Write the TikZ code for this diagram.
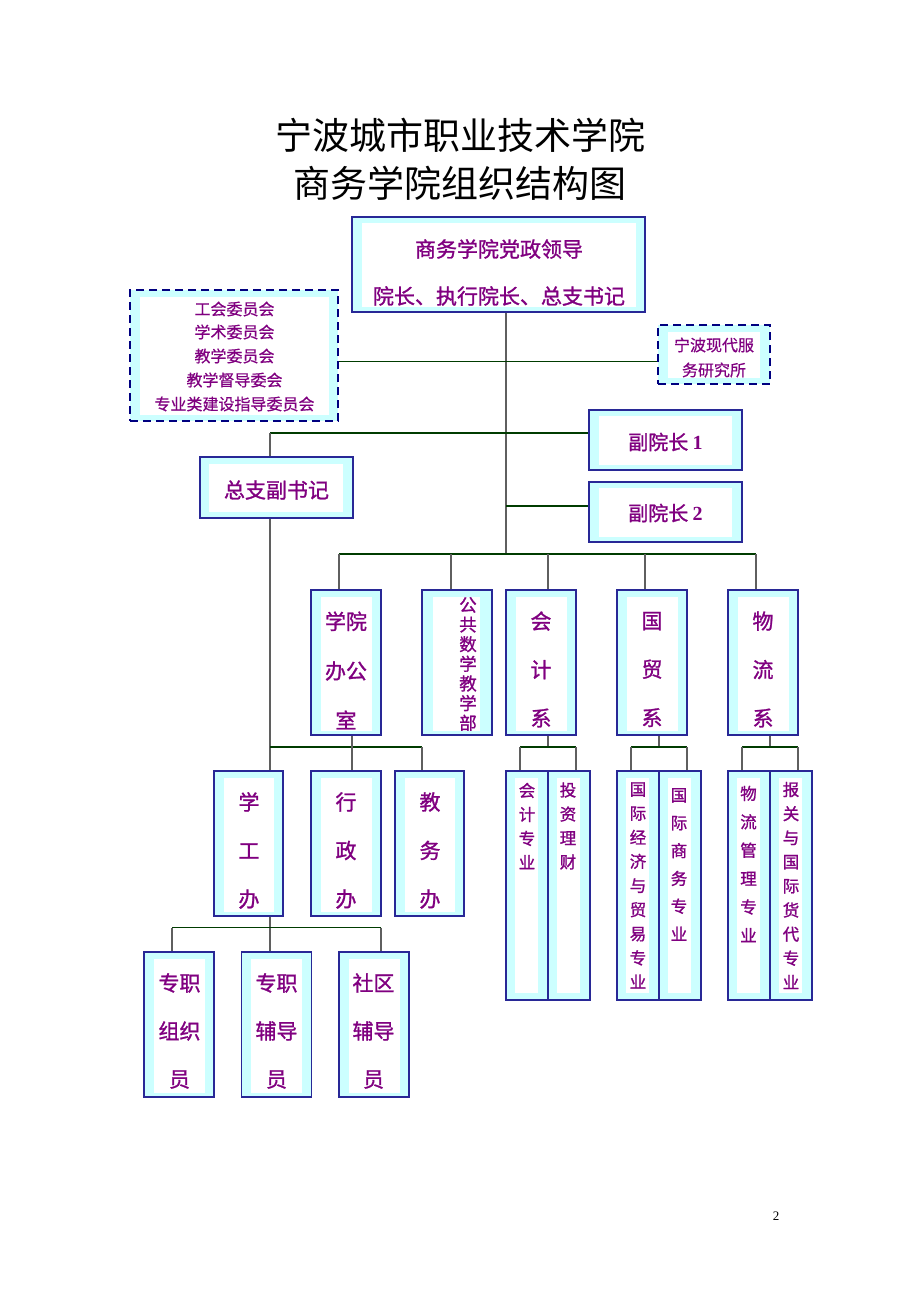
\documentclass[tikz,border=0pt]{standalone}
\usepackage{fontspec}
\setmainfont{Noto Sans CJK SC}
\newfontfamily\cjkb[FakeBold=1.2]{Noto Sans CJK SC}
\newfontfamily\cjkm[FakeBold=0.6]{Noto Sans CJK SC}
\newfontfamily\numfont{Liberation Serif}
\usetikzlibrary{calc}
\definecolor{bnavy}{RGB}{40,40,150}
\definecolor{dnavy}{RGB}{0,0,128}
\definecolor{bcyan}{RGB}{204,255,255}
\definecolor{tpurple}{RGB}{128,0,128}
\definecolor{hgreen}{RGB}{0,60,0}
\definecolor{vgray}{RGB}{95,95,95}
\tikzset{
  insl/.store in=\insl, insr/.store in=\insr, inst/.store in=\inst, insb/.store in=\insb,
  insl=9.5pt, insr=9.5pt, inst=7pt, insb=6pt,
  sz/.style 2 args={minimum width=#1pt, minimum height=#2pt},
  orgbox/.style={draw=bnavy, line width=1.3pt, fill=bcyan, inner sep=0pt,
    path picture={\fill[white] ([xshift=\insl,yshift=-\inst]path picture bounding box.north west)
      rectangle ([xshift=-\insr,yshift=\insb]path picture bounding box.south east);}},
  dbox/.style={draw=dnavy, line width=2.6pt, dash pattern=on 8pt off 5pt},
  txt/.style={text=tpurple, inner sep=0pt, font=\cjkb\fontsize{21}{21}\selectfont},
  st/.style={text=tpurple, inner sep=0pt, font=\cjkm\fontsize{16}{16}\selectfont},
  vt/.style 2 args={text=tpurple, inner sep=0pt, align=center, font=\cjkb\fontsize{#1}{#2}\selectfont},
  hl/.style={draw=hgreen, line width=1.4pt},
  vl/.style={draw=vgray, line width=1.4pt},
}
\begin{document}
\begin{tikzpicture}[x=1pt,y=-1pt]
\useasboundingbox[fill=white] (0,0) rectangle (920,1302);
% title
\node[inner sep=0pt, font=\fontsize{37}{37}\selectfont] (t1) at (460,135) {宁波城市职业技术学院};
\node[inner sep=0pt, font=\fontsize{37}{37}\selectfont] (t2) at (460,183) {商务学院组织结构图};
% top box
\node[orgbox, sz={293}{95}, insl=10pt, insr=9pt, inst=6pt, insb=5pt] (top) at (498.5,264.5) {};
\node[txt] (top1) at (499,249) {商务学院党政领导};
\node[txt] (top2) at (499,296) {院长、执行院长、总支书记};
% left dashed box
\node[orgbox, dbox, sz={208}{131}, insl=10pt, insr=9pt, inst=7pt, insb=6pt] (lbox) at (234,355.5) {};
\node[st] (l1) at (234.5,309) {工会委员会};
\node[st] (l2) at (234.5,332) {学术委员会};
\node[st] (l3) at (234.5,356) {教学委员会};
\node[st] (l4) at (234.5,380) {教学督导委会};
\node[st] (l5) at (234.5,404) {专业类建设指导委员会};
% right dashed box
\node[orgbox, dbox, sz={112}{59}, insl=10pt, insr=10pt, inst=7pt, insb=6pt] (rbox) at (714,354.5) {};
\node[st] (r1) at (714,345) {宁波现代服};
\node[st] (r2) at (714,370) {务研究所};
% vice presidents
\node[orgbox, sz={153}{60}, insl=10pt, insr=10pt, inst=6pt, insb=5pt] (vp1) at (665.5,440) {};
\node[txt, font=\cjkb\fontsize{20}{20}\selectfont] (vp1t) at (665.5,442) {副院长 {\numfont\bfseries 1}};
\node[orgbox, sz={153}{60}, insl=10pt, insr=10pt, inst=6pt, insb=5pt] (vp2) at (665.5,512) {};
\node[txt, font=\cjkb\fontsize{20}{20}\selectfont] (vp2t) at (665.5,513) {副院长 {\numfont\bfseries 2}};
% deputy secretary
\node[orgbox, sz={153}{61}, insl=9pt, insr=10pt, inst=7pt, insb=6pt] (zfs) at (276.5,487.5) {};
\node[txt] (zfst) at (276.5,490) {总支副书记};
% second row
\node[orgbox, sz={70}{145}, inst=7pt, insb=4pt] (xyb) at (346,662.5) {};
\node[vt={21}{49.5}] (xybt) at (346,670.5) {学院\\办公\\室};
\node[orgbox, sz={70}{145}, insl=11pt, insr=12pt, inst=7pt, insb=4pt] (ggs) at (457,662.5) {};
\node[vt={17.5}{19.67}] (ggst) at (468,664) {公\\共\\数\\学\\教\\学\\部};
\node[orgbox, sz={70}{145}, inst=7pt, insb=4pt] (kjx) at (541,662.5) {};
\node[vt={21}{48.5}] (kjxt) at (541,669.5) {会\\计\\系};
\node[orgbox, sz={70}{145}, inst=7pt, insb=4pt] (gmx) at (652,662.5) {};
\node[vt={21}{48.5}] (gmxt) at (652,669.5) {国\\贸\\系};
\node[orgbox, sz={70}{145}, inst=7pt, insb=4pt] (wlx) at (763,662.5) {};
\node[vt={21}{48.5}] (wlxt) at (763,669.5) {物\\流\\系};
% third row (left)
\node[orgbox, sz={69}{145}, inst=7pt, insb=4pt] (xgb) at (248.5,843.5) {};
\node[vt={21}{48.5}] (xgbt) at (249,850.5) {学\\工\\办};
\node[orgbox, sz={70}{145}, inst=7pt, insb=4pt] (xzb) at (346,843.5) {};
\node[vt={21}{48.5}] (xzbt) at (346,850.5) {行\\政\\办};
\node[orgbox, sz={69}{145}, inst=7pt, insb=4pt] (jwb) at (429.5,843.5) {};
\node[vt={21}{48.5}] (jwbt) at (430,850.5) {教\\务\\办};
% bottom row
\node[orgbox, sz={70}{145}, inst=7pt, insb=4pt] (zzy) at (179,1024.5) {};
\node[vt={21}{48}] (zzyt) at (179.5,1031) {专职\\组织\\员};
\node[orgbox, sz={70}{145}, inst=7pt, insb=4pt] (zfd) at (276.5,1024.5) {};
\node[vt={21}{48}] (zfdt) at (276.5,1031) {专职\\辅导\\员};
\node[orgbox, sz={70}{145}, inst=7pt, insb=4pt] (sqd) at (374,1024.5) {};
\node[vt={21}{48}] (sqdt) at (373.5,1031) {社区\\辅导\\员};
% majors
\node[orgbox, sz={42}{229}, insl=9pt, insr=10pt, inst=7pt, insb=7pt] (kjzy) at (527,885.5) {};
\node[vt={16.5}{24}] (kjzyt) at (527,826) {会\\计\\专\\业};
\node[orgbox, sz={42}{229}, insl=9pt, insr=10pt, inst=7pt, insb=7pt] (tzlc) at (569,885.5) {};
\node[vt={16.5}{24}] (tzlct) at (568,826) {投\\资\\理\\财};
\node[orgbox, sz={42}{229}, insl=9pt, insr=10pt, inst=7pt, insb=7pt] (gjjm) at (638,885.5) {};
\node[vt={16.5}{24.1}] (gjjmt) at (638,885.5) {国\\际\\经\\济\\与\\贸\\易\\专\\业};
\node[orgbox, sz={42}{229}, insl=9pt, insr=10pt, inst=7pt, insb=7pt] (gjsw) at (680,885.5) {};
\node[vt={16.5}{27.8}] (gjswt) at (679,864.5) {国\\际\\商\\务\\专\\业};
\node[orgbox, sz={42}{229}, insl=9pt, insr=10pt, inst=7pt, insb=7pt] (wlgl) at (749,885.5) {};
\node[vt={16.5}{28.4}] (wlglt) at (748.5,864) {物\\流\\管\\理\\专\\业};
\node[orgbox, sz={42}{229}, insl=9pt, insr=10pt, inst=7pt, insb=7pt] (bggj) at (791,885.5) {};
\node[vt={16.5}{24.1}] (bggjt) at (791,885.5) {报\\关\\与\\国\\际\\货\\代\\专\\业};
% connectors: trunk
\coordinate (j0) at (506,554);
\coordinate (j1) at (506,361.7);
\coordinate (j2) at (270,433);
\coordinate (j3) at (506,506);
\draw[vl] (j0 |- top.south) -- (j0);
\draw[hl] (j1 -| lbox.east) -- (j1 -| rbox.west);
\draw[hl] (j2) -- (j2 -| vp1.west);
\draw[vl] (j2) -- (j2 |- zfs.north);
\draw[hl] (j3) -- (j3 -| vp2.west);
% second-row bar
\coordinate (b1) at (339,554);
\coordinate (b2) at (451,554);
\coordinate (b3) at (548,554);
\coordinate (b4) at (645,554);
\coordinate (b5) at (756,554);
\draw[hl] (b1) -- (b5);
\draw[vl] (b1) -- (b1 |- xyb.north);
\draw[vl] (b2) -- (b2 |- ggs.north);
\draw[vl] (b3) -- (b3 |- kjx.north);
\draw[vl] (b4) -- (b4 |- gmx.north);
\draw[vl] (b5) -- (b5 |- wlx.north);
% left branch
\coordinate (j4) at (270,747);
\coordinate (j5) at (422,747);
\coordinate (j6) at (352,747);
\draw[vl] (j4 |- zfs.south) -- (j4 |- xgb.north);
\draw[hl] (j4) -- (j5);
\draw[vl] (j5) -- (j5 |- jwb.north);
\draw[vl] (j6 |- xyb.south) -- (j6 |- xzb.north);
% bottom branch
\coordinate (j7) at (270,927.5);
\coordinate (j8) at (172,927.5);
\coordinate (j9) at (381,927.5);
\draw[vl] (j7 |- xgb.south) -- (j7 |- zfd.north);
\draw[hl] (j8) -- (j9);
\draw[vl] (j8) -- (j8 |- zzy.north);
\draw[vl] (j9) -- (j9 |- sqd.north);
% majors branches
\coordinate (k0) at (548,747);
\coordinate (k1) at (520,747);
\coordinate (k2) at (576,747);
\draw[vl] (k0 |- kjx.south) -- (k0);
\draw[hl] (k1) -- (k2);
\draw[vl] (k1) -- (k1 |- kjzy.north);
\draw[vl] (k2) -- (k2 |- tzlc.north);
\coordinate (g0) at (659,747);
\coordinate (g1) at (631,747);
\coordinate (g2) at (687,747);
\draw[vl] (g0 |- gmx.south) -- (g0);
\draw[hl] (g1) -- (g2);
\draw[vl] (g1) -- (g1 |- gjjm.north);
\draw[vl] (g2) -- (g2 |- gjsw.north);
\coordinate (w0) at (770,747);
\coordinate (w1) at (742,747);
\coordinate (w2) at (798,747);
\draw[vl] (w0 |- wlx.south) -- (w0);
\draw[hl] (w1) -- (w2);
\draw[vl] (w1) -- (w1 |- wlgl.north);
\draw[vl] (w2) -- (w2 |- bggj.north);
% page number
\node[inner sep=0pt, font=\numfont\fontsize{13}{13}\selectfont] (pg) at (776,1216) {2};
\end{tikzpicture}
\end{document}
